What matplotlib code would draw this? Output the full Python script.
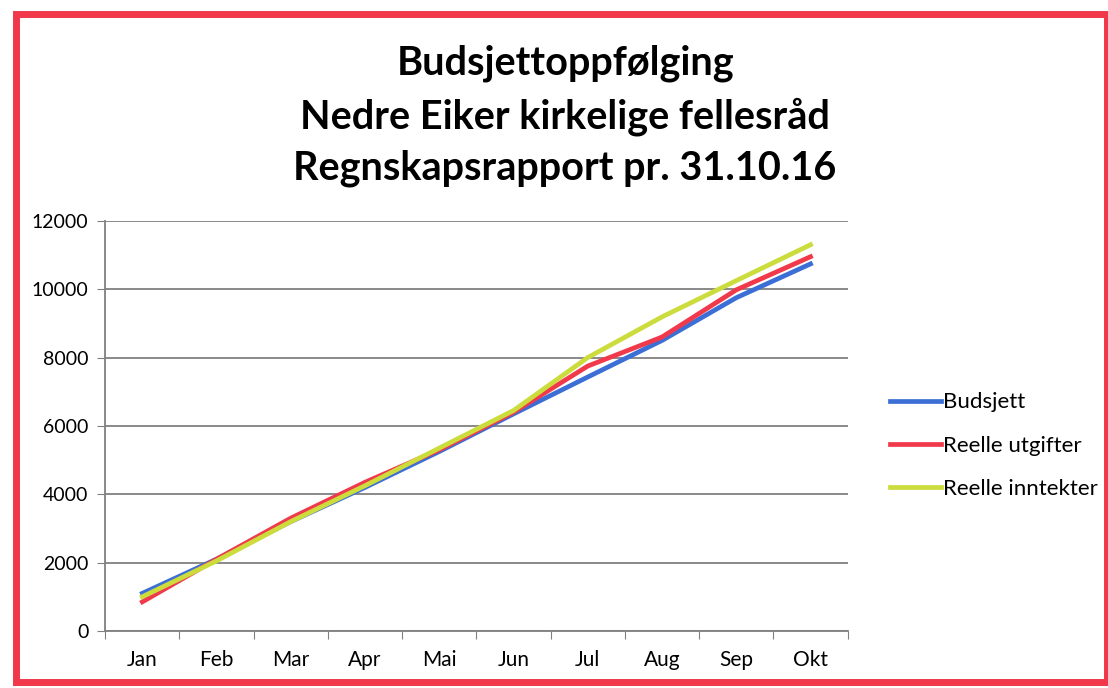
import matplotlib.pyplot as plt
from matplotlib.patches import Rectangle

months = ["Jan", "Feb", "Mar", "Apr", "Mai", "Jun", "Jul", "Aug", "Sep", "Okt"]
budsjett = [1100, 2100, 3200, 4200, 5250, 6350, 7430, 8500, 9750, 10740]
utgifter = [850, 2100, 3300, 4350, 5300, 6400, 7750, 8600, 9980, 10950]
inntekter = [1000, 2050, 3200, 4250, 5350, 6450, 8000, 9190, 10250, 11300]

fig = plt.figure(figsize=(11.08, 6.88), dpi=100)
plt.rcParams['font.family'] = ['Lato', 'DejaVu Sans']

# red frame around the chart
fig.add_artist(Rectangle((0.014, 0.008), 0.985, 0.972, transform=fig.transFigure,
                         fill=False, edgecolor='#f0384a', linewidth=5))

ax = fig.add_axes([0.095, 0.083, 0.67, 0.596])
x = list(range(len(months)))
ax.plot(x, budsjett, color='#3c6fd6', lw=3.4, label='Budsjett')
ax.plot(x, utgifter, color='#f03a4b', lw=3.4, label='Reelle utgifter')
ax.plot(x, inntekter, color='#cbdc3c', lw=3.4, label='Reelle inntekter')

ax.set_xlim(-0.5, len(months) - 0.5)
ax.set_ylim(0, 12000)
ax.set_yticks(range(0, 12001, 2000))
ax.set_xticks([i - 0.5 for i in range(len(months) + 1)])
ax.set_xticklabels([])
ax.set_xticks(x, minor=True)
ax.set_xticklabels(months, minor=True)
ax.tick_params(axis='x', which='minor', length=0, pad=14, labelsize=15)
ax.tick_params(axis='x', which='major', length=6, color='#808080')
ax.tick_params(axis='y', length=6, color='#808080', labelsize=14, pad=6)
ax.grid(axis='y', color='#808080', lw=1.3)
for s in ['top', 'right']:
    ax.spines[s].set_visible(False)
for s in ['left', 'bottom']:
    ax.spines[s].set_color('#808080')
    ax.spines[s].set_linewidth(1.3)

fig.text(0.51, 0.908, "Budsjettoppfølging", ha='center', va='center',
         fontsize=28.5, fontweight='bold')
fig.text(0.51, 0.830, "Nedre Eiker kirkelige fellesråd", ha='center', va='center',
         fontsize=28.5, fontweight='bold')
fig.text(0.51, 0.755, "Regnskapsrapport pr. 31.10.16", ha='center', va='center',
         fontsize=28.5, fontweight='bold')

fig.legend(loc='center left', bbox_to_anchor=(0.785, 0.352), frameon=False,
           fontsize=16, handlelength=2.3, handletextpad=0.1, labelspacing=1.05)

fig.savefig('out.png', dpi=100)
